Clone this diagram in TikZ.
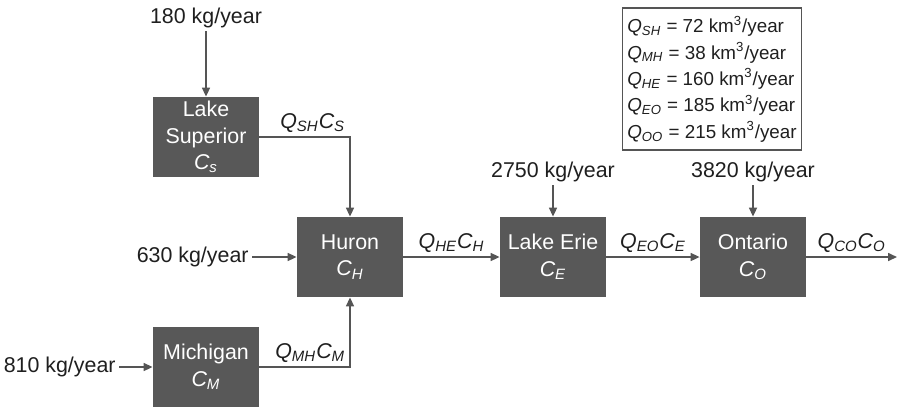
\documentclass[tikz,border=0pt]{standalone}
\usepackage{fontspec}
\setmainfont{Liberation Sans}
\usetikzlibrary{arrows.meta, positioning}
\definecolor{lakegray}{RGB}{88,88,88}
\definecolor{linegray}{RGB}{85,85,85}
\newcommand{\conc}[2]{\textit{#1\textsubscript{#2}}}
\newcommand{\flux}[4]{\textit{#1\textsubscript{#2}#3\textsubscript{#4}}}

\begin{document}
\begin{tikzpicture}[
    x=0.5pt, y=-0.5pt,
    font=\fontsize{10.7}{13.2}\selectfont,
    lake/.style={rectangle, fill=lakegray, text=white, minimum width=53pt, minimum height=40pt, inner sep=0pt, align=center},
    load/.style={inner sep=1.5pt, text=black!88},
    flow/.style={inner sep=2pt, text=black!88},
    arrow/.style={-{Triangle[length=4.5pt, width=4pt]}, line width=0.8pt, linegray},
]
    \useasboundingbox (0,0) rectangle (897,408);

    % Lakes
    \node[lake] (superior) at (206,137) {Lake\\Superior\\\conc{C}{s}};
    \node[lake] (huron) at (350,257) {Huron\\\conc{C}{H}};
    \node[lake] (michigan) at (206,367) {Michigan\\\conc{C}{M}};
    \node[lake] (erie) at (553,257) {Lake Erie\\\conc{C}{E}};
    \node[lake] (ontario) at (753,257) {Ontario\\\conc{C}{O}};

    % Loads
    \node[load] (load180) at (206,18) {180 kg/year};
    \node[load, anchor=east] (load630) at (252,257) {630 kg/year};
    \node[load, anchor=east] (load810) at (119,367) {810 kg/year};
    \node[load] (load2750) at (553,172) {2750 kg/year};
    \node[load] (load3820) at (753,172) {3820 kg/year};

    % Flow rates
    \node[draw=linegray, line width=0.6pt, align=left, inner sep=0pt, minimum width=89.5pt, minimum height=71pt,
          font=\fontsize{9.4}{13.2}\selectfont, text=black!88] (rates) at (712,79)
        {\conc{Q}{SH} = 72 km\textsuperscript{3}/year\\
         \conc{Q}{MH} = 38 km\textsuperscript{3}/year\\
         \conc{Q}{HE} = 160 km\textsuperscript{3}/year\\
         \conc{Q}{EO} = 185 km\textsuperscript{3}/year\\
         \conc{Q}{OO} = 215 km\textsuperscript{3}/year};

    \coordinate (outlet) at (897,257);

    % Load arrows
    \draw[arrow] (load180) -- (superior);
    \draw[arrow] (load630) -- (huron);
    \draw[arrow] (load810) -- (michigan);
    \draw[arrow] (load2750) -- (erie);
    \draw[arrow] (load3820) -- (ontario);

    % Lake connections
    \draw[arrow] (superior.east) -| node[flow, pos=0.5, above left] {\flux{Q}{SH}{C}{S}} (huron.north);
    \draw[arrow] (michigan.east) -| node[flow, pos=0.5, above left] {\flux{Q}{MH}{C}{M}} (huron.south);
    \draw[arrow] (huron) -- node[flow, above] {\flux{Q}{HE}{C}{H}} (erie);
    \draw[arrow] (erie) -- node[flow, above] {\flux{Q}{EO}{C}{E}} (ontario);
    \draw[arrow] (ontario) -- node[flow, above] {\flux{Q}{CO}{C}{O}} (outlet);

\end{tikzpicture}
\end{document}
